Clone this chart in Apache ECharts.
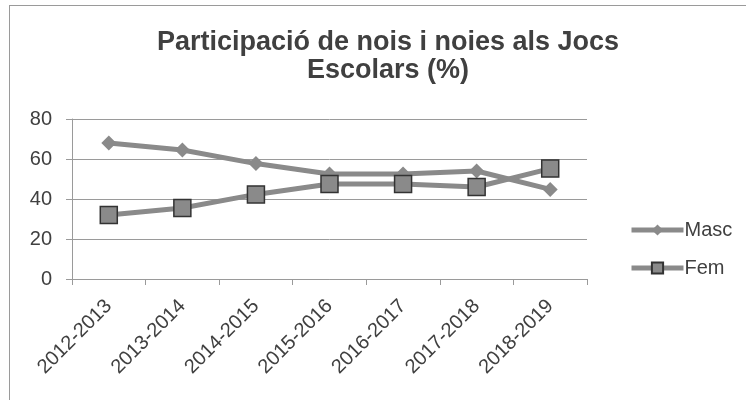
<!DOCTYPE html>
<html>
<head>
<meta charset="utf-8">
<script src="https://cdn.jsdelivr.net/npm/echarts@6/dist/echarts.min.js"></script>
<style>
  html, body { margin: 0; padding: 0; background: #fff; overflow: hidden; }
  #chart { position: absolute; left: 0; top: 0; width: 746px; height: 400px; }
  #frame { position: absolute; left: 9px; top: 5px; width: 800px; height: 500px;
           border: 1px solid #9a9a9a; pointer-events: none; }
</style>
</head>
<body>
<div id="chart"></div>
<div id="frame"></div>
<script>
// cursos escolars
const categories = ['2012-2013', '2013-2014', '2014-2015', '2015-2016', '2016-2017', '2017-2018', '2018-2019'];
// percentatges
const masc = [68, 64.5, 57.7, 52.5, 52.5, 54, 44.8];
const fem = [32, 35.5, 42.3, 47.5, 47.5, 46, 55.2];

const textColor = '#404040';
const lineColor = '#8a8a8a';
const font = 'Liberation Sans, Arial';

var myChart = echarts.init(document.getElementById('chart'));

var option = {
    animation: false,
    title: {
        text: 'Participació de nois i noies als Jocs\nEscolars (%)',
        left: 383,
        top: 24,
        textAlign: 'center',
        textStyle: {
            fontFamily: font,
            fontSize: 27,
            fontWeight: 'bold',
            color: textColor,
            lineHeight: 28
        }
    },
    grid: {
        left: 72,
        right: 159,
        top: 119,
        bottom: 121
    },
    legend: {
        orient: 'vertical',
        left: 624,
        top: 215,
        itemWidth: 52,
        itemHeight: 14,
        itemGap: 18,
        lineStyle: { width: 5 },
        textStyle: {
            fontFamily: font,
            fontSize: 20,
            color: textColor,
            padding: [0, 0, 0, -4]
        },
        data: ['Masc', 'Fem']
    },
    xAxis: {
        type: 'category',
        data: categories,
        boundaryGap: true,
        axisLine: { lineStyle: { color: '#9a9a9a', width: 1 } },
        axisTick: { show: true, length: 6, lineStyle: { color: '#9a9a9a' } },
        axisLabel: {
            rotate: 45,
            interval: 0,
            margin: 24,
            fontFamily: font,
            fontSize: 20,
            color: textColor
        }
    },
    yAxis: {
        type: 'value',
        min: 0,
        max: 80,
        interval: 20,
        axisLine: { show: true, lineStyle: { color: '#9a9a9a', width: 1 } },
        axisTick: { show: true, length: 6, lineStyle: { color: '#9a9a9a' } },
        axisLabel: {
            margin: 20,
            fontFamily: font,
            fontSize: 20,
            color: textColor
        },
        splitLine: { lineStyle: { color: '#9a9a9a', width: 1 } }
    },
    series: [
        {
            name: 'Masc',
            type: 'line',
            data: masc,
            symbol: 'diamond',
            symbolSize: 15,
            lineStyle: { color: lineColor, width: 5 },
            itemStyle: { color: lineColor, borderColor: lineColor, borderWidth: 0 }
        },
        {
            name: 'Fem',
            type: 'line',
            data: fem,
            symbol: 'rect',
            symbolSize: 17,
            lineStyle: { color: lineColor, width: 5 },
            itemStyle: { color: lineColor, borderColor: '#333333', borderWidth: 1.5 }
        }
    ]
};

myChart.setOption(option);
</script>
</body>
</html>
